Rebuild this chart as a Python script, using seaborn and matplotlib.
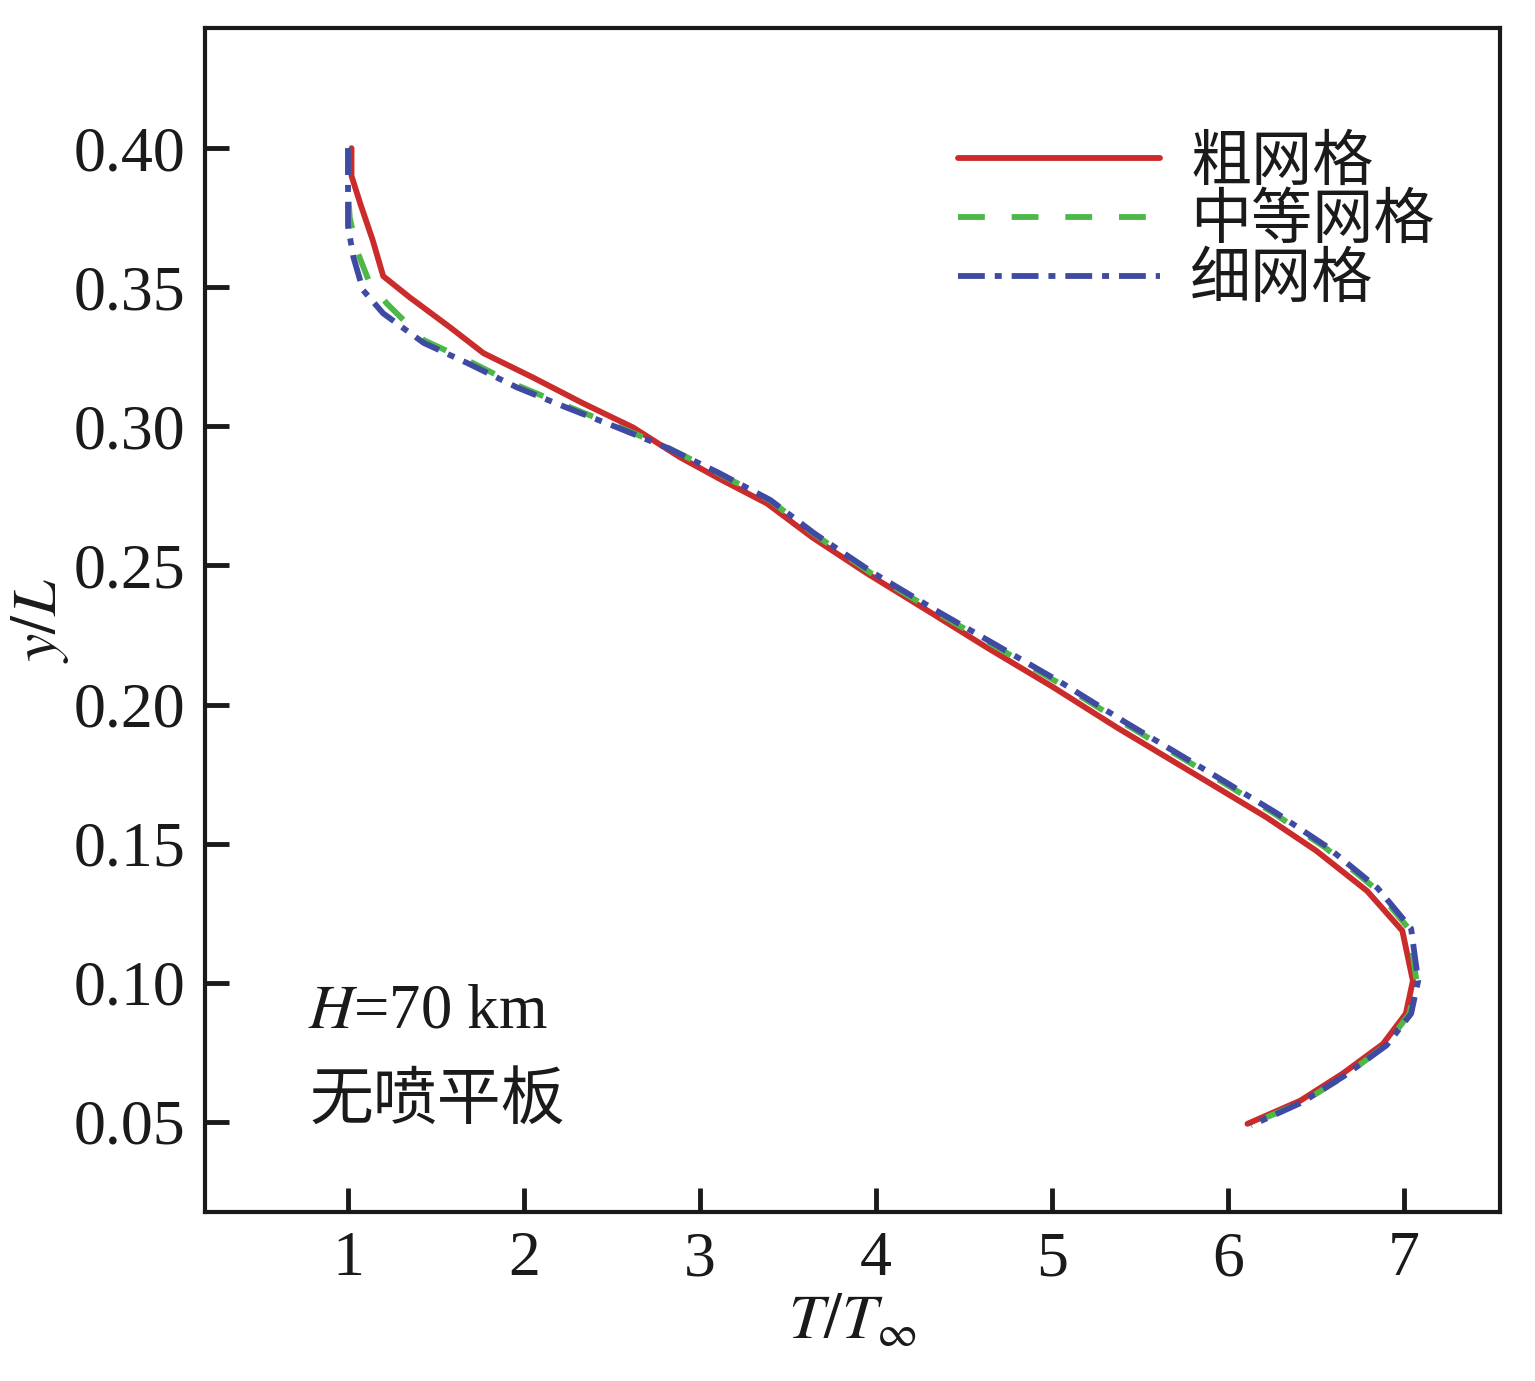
import matplotlib
matplotlib.use("Agg")
import matplotlib.pyplot as plt
import seaborn as sns
import pandas as pd

# ---- data ----
coarse_T = [1.02, 1.02, 1.07, 1.14, 1.20, 1.35, 1.58, 1.77, 2.05, 2.335, 2.62, 2.886, 3.13, 3.38, 3.64,
            3.95, 4.32, 4.63, 5.00, 5.37, 5.90, 6.22, 6.50, 6.79, 6.99, 7.05, 7.01, 6.88, 6.65, 6.41, 6.11]
coarse_y = [0.400, 0.390, 0.380, 0.367, 0.354, 0.3464, 0.3356, 0.3263, 0.3176, 0.3083, 0.2996, 0.2889, 0.2805, 0.2723, 0.2600,
            0.2471, 0.2327, 0.2205, 0.2065, 0.1917, 0.1716, 0.1594, 0.1475, 0.1330, 0.1187, 0.1007, 0.0889, 0.0780, 0.0673, 0.0576, 0.0493]

medium_T = [1.00, 1.00, 1.01, 1.05, 1.12, 1.22, 1.43, 1.68, 1.96, 2.24, 2.53, 2.81, 3.10, 3.40, 3.65,
            3.97, 4.34, 4.67, 5.04, 5.41, 5.94, 6.26, 6.55, 6.84, 7.03, 7.07, 7.03, 6.90, 6.67, 6.43, 6.12]
medium_y = [0.400, 0.385, 0.375, 0.3633, 0.352, 0.3442, 0.331, 0.3237, 0.3148, 0.3074, 0.3000, 0.2926, 0.2833, 0.2733, 0.2612,
            0.2473, 0.2332, 0.2212, 0.2077, 0.1932, 0.1732, 0.1609, 0.1487, 0.1337, 0.1192, 0.1007, 0.0889, 0.0778, 0.0668, 0.0573, 0.0490]

fine_T = [1.00, 1.00, 1.00, 1.03, 1.085, 1.20, 1.43, 1.68, 1.96, 2.24, 2.53, 2.81, 3.10, 3.40, 3.65,
          3.98, 4.35, 4.68, 5.05, 5.42, 5.95, 6.27, 6.56, 6.85, 7.04, 7.08, 7.04, 6.90, 6.66, 6.42, 6.13]
fine_y = [0.400, 0.385, 0.372, 0.361, 0.349, 0.3406, 0.330, 0.3227, 0.314, 0.3068, 0.2996, 0.2924, 0.2835, 0.2735, 0.2615,
          0.2475, 0.2335, 0.2215, 0.2080, 0.1935, 0.1735, 0.1612, 0.1490, 0.1340, 0.1195, 0.1007, 0.0889, 0.0775, 0.0665, 0.0570, 0.0487]

series_names = ["粗网格", "中等网格", "细网格"]
x_ticks = [1, 2, 3, 4, 5, 6, 7]
y_ticks = [0.05, 0.10, 0.15, 0.20, 0.25, 0.30, 0.35, 0.40]
y_ticklabels = ["0.05", "0.10", "0.15", "0.20", "0.25", "0.30", "0.35", "0.40"]

# ---- style ----
sns.set_theme(style="white")
plt.rcParams['font.family'] = ['Liberation Serif', 'Noto Sans CJK SC', 'DejaVu Sans']
plt.rcParams['mathtext.fontset'] = 'stix'

fig = plt.figure(figsize=(15.35, 13.81), dpi=100)
ax = fig.add_axes([205/1535, 1 - 1212/1381, (1500-205)/1535, (1212-28)/1381])

lw = 4.2
colors = ["#CC2B2B", "#4DB848", "#3F4BA3"]
styles = ["-", (0, (4.6, 4.6)), (0, (4.6, 1.7, 1.2, 1.7))]
datasets = [(coarse_T, coarse_y), (medium_T, medium_y), (fine_T, fine_y)]

for (T, y), name, c, ls in zip(datasets, series_names, colors, styles):
    df = pd.DataFrame({"T": T, "y": y})
    sns.lineplot(data=df, x="T", y="y", sort=False, estimator=None, ax=ax,
                 color=c, linewidth=lw, linestyle=ls, label=name)

ax.set_xlim(0.1875, 7.545)
ax.set_ylim(0.0176, 0.4432)
ax.set_xticks(x_ticks)
ax.set_xticklabels([str(t) for t in x_ticks])
ax.set_yticks(y_ticks)
ax.set_yticklabels(y_ticklabels)

for sp in ax.spines.values():
    sp.set_visible(True)
    sp.set_linewidth(3.0)
    sp.set_color("#1a1a1a")

ax.tick_params(axis='both', direction='in', length=17, width=3.5, color="#1a1a1a",
               labelsize=46, labelcolor="#1a1a1a", bottom=True, left=True, top=False, right=False)
ax.tick_params(axis='x', pad=14)
ax.tick_params(axis='y', pad=14)

ax.set_xlabel(r'$T/T_{\infty}$', fontsize=46, color="#1a1a1a", labelpad=4)
ax.set_ylabel(r'$y/L$', fontsize=46, color="#1a1a1a", labelpad=2)

ax.text(0.775, 0.0838, r'$H$=70 km', fontsize=45, color="#1a1a1a", ha='left', va='baseline')
ax.text(0.78, 0.0576, "无喷平板", fontsize=46, color="#1a1a1a", ha='left', va='center',
        family=['Noto Sans CJK SC'])

leg = ax.legend(loc='upper left', bbox_to_anchor=(0.5815, 0.913), frameon=False,
                borderpad=0, borderaxespad=0,
                handlelength=3.3, handletextpad=0.5, labelspacing=-0.06,
                prop={'family': ['Noto Sans CJK SC'], 'size': 44})
for t in leg.get_texts():
    t.set_color("#1a1a1a")

fig.savefig("out.png", dpi=100)
